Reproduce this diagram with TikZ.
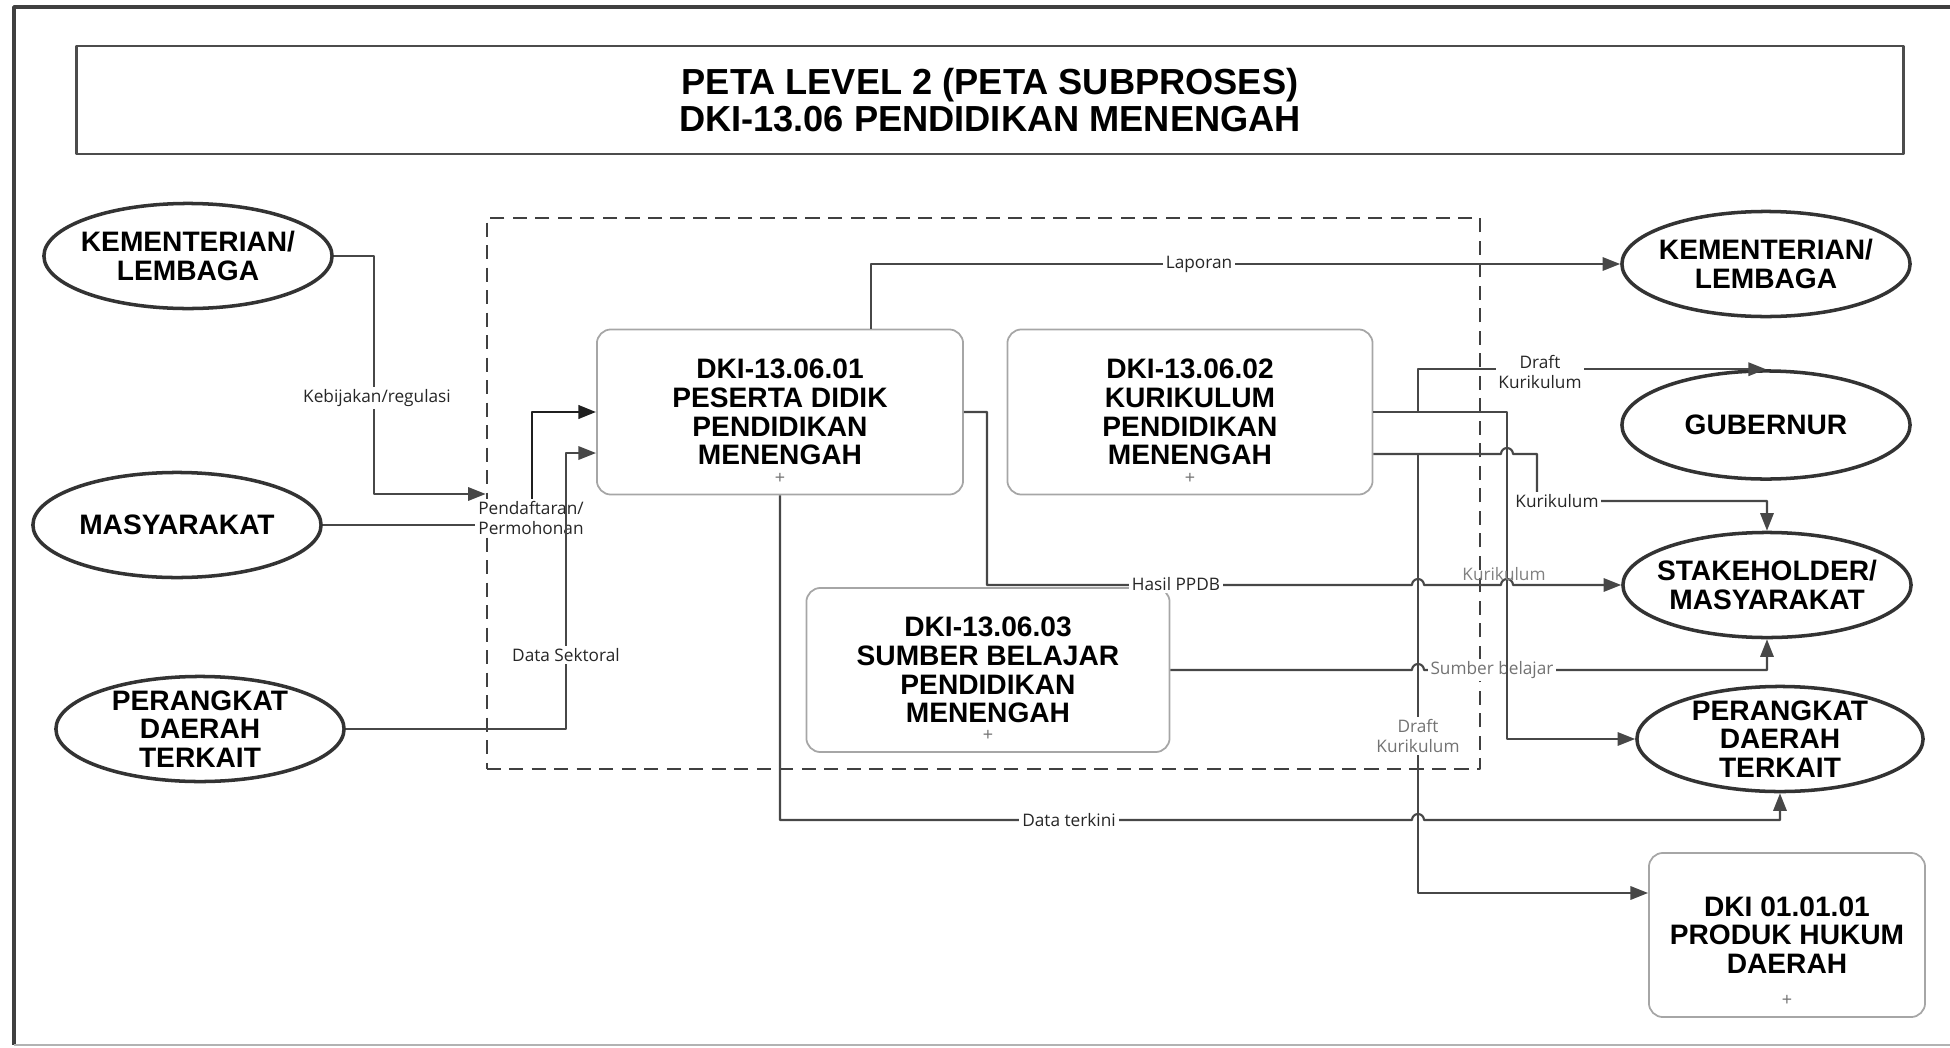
\documentclass[tikz,border=0pt]{standalone}
\usepackage{fontspec}
\setmainfont{Liberation Sans}
\newfontfamily\lblfont{Open Sans}
\usetikzlibrary{arrows.meta,shapes.geometric}

\begin{document}
\begin{tikzpicture}[x=0.01cm, y=0.01cm, line join=round, >={Triangle[length=5pt,width=3.8pt]},
	bigtxt/.style={align=center, font=\fontsize{8}{8.15}\selectfont\bfseries, inner sep=0pt},
	ent/.style={ellipse, draw=black!80, line width=1pt, minimum width=2.88cm, minimum height=1.05cm, inner sep=0pt, label={[bigtxt]center:#1}},
	proc/.style={rectangle, rounded corners=4pt, draw=black!35, line width=0.5pt, minimum height=1.64cm, align=center, font=\fontsize{8}{8.15}\selectfont\bfseries},
	flow/.style={draw=black!72, line width=0.6pt},
	tag/.style={fill=white, inner sep=0.8pt, align=center, font=\lblfont\fontsize{4.9}{5.6}\selectfont, text=black!85},
	plus/.style={font=\tiny, text=black!55, inner sep=0pt}]
	
	\useasboundingbox (0,0) rectangle (1950,-1048);
	\draw[line width=1.1pt, black!75] (1950,-7) -- (14,-7) -- (14,-1045);
	\draw[line width=0.6pt, black!30] (14,-1045) -- (1950,-1045);
	
	\node[draw=black!70, line width=0.8pt, minimum width=18.26cm, minimum height=1.08cm, align=center, font=\fontsize{10.3}{10.6}\selectfont\bfseries] (title) at (990,-100) {PETA LEVEL 2 (PETA SUBPROSES)\\DKI-13.06 PENDIDIKAN MENENGAH};
	
	\node[draw=black!75, dash pattern=on 4pt off 2.4pt, line width=0.6pt, minimum width=9.93cm, minimum height=5.51cm] (grp) at (983.5,-493.5) {};
	
	\node[ent={KEMENTERIAN/\\LEMBAGA}] (kl1) at (188,-256) {};
	\node[ent=MASYARAKAT] (masy) at (177,-525) {};
	\node[ent={PERANGKAT\\DAERAH\\TERKAIT}] (pd1) at (200,-729) {};
	\node[ent={KEMENTERIAN/\\LEMBAGA}] (kl2) at (1766,-264) {};
	\node[ent=GUBERNUR, minimum height=1.08cm] (gub) at (1766,-425) {};
	\node[ent={STAKEHOLDER/\\MASYARAKAT}] (stake) at (1767,-585) {};
	\node[ent={PERANGKAT\\DAERAH\\TERKAIT}, minimum width=2.86cm] (pd2) at (1780,-739) {};
	
	\node[proc, minimum width=3.66cm, minimum height=1.65cm] (box1) at (780,-412) {DKI-13.06.01\\PESERTA DIDIK\\PENDIDIKAN\\MENENGAH};
	\node[proc, minimum width=3.65cm, minimum height=1.65cm] (box2) at (1190,-412) {DKI-13.06.02\\KURIKULUM\\PENDIDIKAN\\MENENGAH};
	\node[proc, minimum width=3.63cm] (box3) at (988,-670) {DKI-13.06.03\\SUMBER BELAJAR\\PENDIDIKAN\\MENENGAH};
	\node[proc, minimum width=2.76cm] (hukum) at (1787,-935) {DKI 01.01.01\\PRODUK HUKUM\\DAERAH};
	\foreach \b in {box1,box2,box3,hukum}
		\node[plus] (\b-plus) at ([yshift=0.17cm]\b.south) {+};
	
	\coordinate (split1) at (1418,-412);
	\coordinate (split2) at (1418,-454);
	
	\draw[flow,->] (kl1.east) -| (374,-494) -- (grp.west |- 374,-494);
	\node[tag] (tkeb) at (377,-398) {Kebijakan/regulasi};
	
	\draw[flow] (masy.east) -- (532,-525);
	\draw[flow,->, line width=0.8pt, black!88] (532,-525) |- (box1.west);
	\node[tag] (tdaf) at (531,-518) {Pendaftaran/\\Permohonan};
	
	\draw[flow,->] (pd1.east) -- (566,-729) |- ([yshift=-0.41cm]box1.west);
	\node[tag] (tsek) at (566,-655) {Data Sektoral};
	
	\draw[flow,->] ([xshift=0.91cm]box1.north) |- (kl2.west);
	\node[tag] (tlap) at (1199,-264) {Laporan};
	
	\draw[flow,->] (box1.east) -- (987,-412) -- (987,-585) -- (1412,-585) arc (180:0:6) -- (1501,-585) arc (180:0:6) -- (stake.west);
	\node[tag] (thas) at (1176,-584) {Hasil PPDB};
	
	\draw[flow,->] (box1.south) -- (780,-820) -- (1412,-820) arc (180:0:6) -| (pd2.south);
	\node[tag] (tter) at (1069,-820) {Data terkini};
	
	\draw[flow,->] (box3.east) -- (1412,-670) arc (180:0:6) -| (stake.south);
	\node[tag, text=black!55] (tsum) at (1492,-670) {Sumber belajar};
	
	\draw[flow,->] (box2.east) -| (1507,-739) -- (pd2.west);
	\node[tag, fill=none, text=black!50] (tkur1) at (1504,-574) {Kurikulum};
	
	\draw[flow,->] (split1) |- (gub.north);
	\node[tag] (tdra1) at (1540,-372) {Draft\\Kurikulum};
	
	\draw[flow,->] ([yshift=-0.42cm]box2.east) -- (1501,-454) arc (180:0:6) -- (1537,-454) -- (1537,-501) -| (stake.north);
	\node[tag] (tkur2) at (1557,-501) {Kurikulum};
	
	\draw[flow,->] (split2) |- ([yshift=0.42cm]hukum.west);
	\node[tag, text=black!55] (tdra2) at (1418,-736) {Draft\\Kurikulum};
\end{tikzpicture}
\end{document}
